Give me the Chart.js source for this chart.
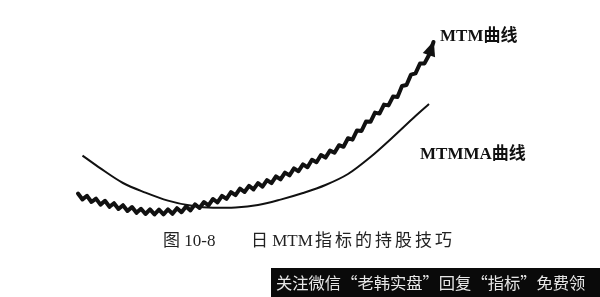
<!DOCTYPE html>
<html>
<head>
<meta charset="utf-8">
<script src="https://cdn.jsdelivr.net/npm/chart.js@4/dist/chart.umd.min.js"></script>
<style>
  html, body { margin: 0; padding: 0; background: #fff; }
  #wrap { position: relative; width: 600px; height: 297px; overflow: hidden; background: #fff; }
  #mtmChart { position: absolute; left: 0; top: 0; }
  .lbl { position: absolute; white-space: nowrap; color: #111; line-height: 1; }
  .bold { font-family: "Liberation Serif", "DejaVu Serif", "Noto Sans CJK SC", serif; font-weight: bold; font-size: 17px; }
  .cap { font-family: "Liberation Serif", "DejaVu Serif", "Noto Sans CJK SC", serif; font-size: 17px; color: #222; }
  #promo { position: absolute; left: 271px; top: 268px; width: 329px; height: 29px; background: #0a0a0a; }
  #promo span { position: absolute; left: 5px; top: 6px; font-family: "Noto Sans CJK SC", sans-serif; font-size: 16.3px; line-height: 1; color: #e6e6e6; white-space: nowrap; }
</style>
</head>
<body>
<div id="wrap">
  <canvas id="mtmChart" width="600" height="297"></canvas>
  <div class="lbl bold" style="left:440px; top:27px;">MTM曲线</div>
  <div class="lbl bold" style="left:420px; top:145px;">MTMMA曲线</div>
  <div class="lbl cap" style="left:163px; top:232px;">图 10-8</div>
  <div class="lbl cap" style="left:251px; top:232px;">日 MTM</div>
  <div class="lbl cap" style="left:315px; top:232px; letter-spacing:3px;">指标的持股技巧</div>
  <div id="promo"><span>关注微信“老韩实盘”回复“指标”免费领</span></div>
</div>
<script>
// MTM (jagged line, ends with an arrow) - day index and value
const mtmDays = [
  0, 1, 2, 3, 4, 5, 6, 7, 8, 9,
  10, 11, 12, 13, 14, 15, 16, 17, 18, 19,
  20, 21, 22, 23, 24, 25, 26, 27, 28, 29,
  30, 31, 32, 33, 34, 35, 36, 37, 38, 39,
  40, 41, 42, 43, 44, 45, 46, 47, 48, 49,
  50, 51, 52, 53, 54, 55, 56, 57, 58, 59,
  60, 61, 62, 63, 64, 65, 66, 67, 68, 69,
  70, 71, 72, 73, 74, 75, 76, 77, 78, 79
];
const mtmValues = [
  3.2, 0.3, 2.1, -1.0, 0.7, -2.3, -0.4, -3.4, -1.6, -4.5,
  -2.6, -5.5, -3.5, -6.4, -4.4, -7.0, -4.7, -7.2, -4.8, -7.2,
  -4.7, -6.9, -4.1, -6.1, -3.2, -5.2, -2.2, -4.0, -1.0, -2.7,
  0.5, -1.2, 2.1, 0.6, 3.9, 2.4, 5.7, 4.0, 7.1, 5.3,
  8.4, 6.7, 9.9, 8.4, 11.8, 10.3, 13.7, 12.3, 15.8, 14.4,
  17.8, 16.4, 20.1, 18.9, 22.5, 21.2, 24.7, 23.6, 27.4, 26.6,
  30.9, 30.2, 34.8, 34.5, 39.2, 39.1, 43.7, 43.2, 47.7, 47.3,
  51.7, 51.5, 57.0, 57.5, 62.7, 63.3, 68.2, 68.3, 72.5, 79.0
];

// MTMMA (smooth moving average)
const mamDays = [1, 5, 10, 15, 20, 25, 30, 35, 40, 45, 50, 55, 60, 65, 70, 75, 78];
const mamValues = [22.2, 15.8, 8.5, 3.7, -0.3, -2.8, -3.9, -3.7, -2.5, 0.2, 3.5, 7.5, 13, 21.5, 31.5, 42, 48];

const dayRange = [-17.33, 116];
const valueRange = [-48.5, 100];

function toPoints(xs, ys) {
    return xs.map((x, i) => ({ x: x, y: ys[i] }));
}

// arrow head at the end of the MTM line
const arrowHead = {
    id: 'arrowHead',
    afterDatasetsDraw(chart) {
        const pts = chart.getDatasetMeta(1).data;
        const a = pts[pts.length - 2];
        const b = pts[pts.length - 1];
        const ang = Math.atan2(b.y - a.y, b.x - a.x);
        const len = 15, half = 6.5;
        const tipX = b.x + Math.cos(ang) * 1;
        const tipY = b.y + Math.sin(ang) * 1;
        const ctx = chart.ctx;
        ctx.save();
        ctx.fillStyle = '#111';
        ctx.beginPath();
        ctx.moveTo(tipX, tipY);
        ctx.lineTo(tipX - len * Math.cos(ang) + half * Math.sin(ang), tipY - len * Math.sin(ang) - half * Math.cos(ang));
        ctx.lineTo(tipX - len * Math.cos(ang) - half * Math.sin(ang), tipY - len * Math.sin(ang) + half * Math.cos(ang));
        ctx.closePath();
        ctx.fill();
        ctx.restore();
    }
};

const ctx = document.getElementById('mtmChart').getContext('2d');
const mtmChart = new Chart(ctx, {
    type: 'line',
    data: {
        datasets: [{
            label: 'MTMMA',
            data: toPoints(mamDays, mamValues),
            borderColor: '#111',
            borderWidth: 2,
            cubicInterpolationMode: 'monotone',
            pointRadius: 0,
            fill: false
        }, {
            label: 'MTM',
            data: toPoints(mtmDays, mtmValues),
            borderColor: '#111',
            borderWidth: 4,
            borderJoinStyle: 'round',
            borderCapStyle: 'round',
            tension: 0,
            pointRadius: 0,
            fill: false
        }]
    },
    options: {
        responsive: false,
        animation: false,
        layout: { padding: 0 },
        plugins: {
            legend: { display: false },
            tooltip: { enabled: false },
            title: { display: false }
        },
        scales: {
            x: { type: 'linear', display: false, min: dayRange[0], max: dayRange[1] },
            y: { type: 'linear', display: false, min: valueRange[0], max: valueRange[1] }
        }
    },
    plugins: [arrowHead]
});
</script>
</body>
</html>
